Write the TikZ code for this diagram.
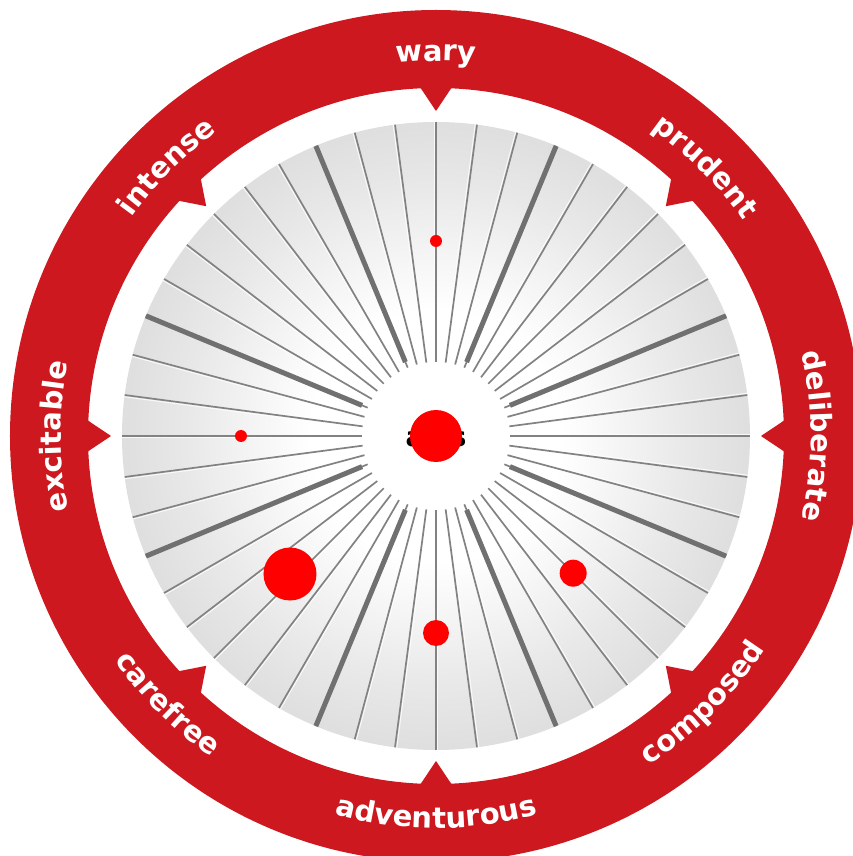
\documentclass[tikz,border=0pt]{standalone}
\usepackage{fontspec}
\setmainfont{Liberation Sans}
\newfontfamily\ringfamily{DejaVu Sans}
\usetikzlibrary{decorations.text}

\definecolor{ringred}{RGB}{204,24,30}
\definecolor{spokegray}{RGB}{130,130,130}
\definecolor{bargray}{RGB}{112,112,112}
\definecolor{dotred}{RGB}{255,0,0}

\pgfdeclareradialshading{diskshade}{\pgfpoint{0bp}{0bp}}{color(0bp)=(white); color(10bp)=(white); color(20bp)=(black!9); color(32bp)=(black!18); color(42bp)=(black!28); color(50bp)=(black!44)}

\newcommand{\ringfont}{\ringfamily\bfseries\fontsize{29}{29}\selectfont}

\tikzset{
    reddot/.style={circle, fill=dotred, inner sep=0pt},
    ringlabel/.style={decorate, decoration={text along path, text={|\ringfont|#1}, text align=center, text color=white}},
    thinspoke/.style={draw=spokegray, line width=1.7pt},
    thickspoke/.style={draw=bargray, line width=5pt},
}

\begin{document}
\begin{tikzpicture}[x=1pt, y=1pt]
        \useasboundingbox (-436,-420) rectangle (417,436);
        \clip (-436,-420) rectangle (417,436);
        \fill[white] (-436,-420) rectangle (417,436);
        \coordinate (O) at (0,0);
        \fill[ringred, even odd rule] (O) circle[radius=426] (O) circle[radius=348];
        \foreach \a in {0,45,...,315}
            \fill[ringred] (\a+2.9:352) -- (\a:325) -- (\a-2.9:352) -- cycle;
        \shade[shading=diskshade] (O) circle[radius=314];
        \foreach \a in {0,7.5,...,352.5} {
            \draw[white, opacity=0.8, line width=1pt, rotate=\a] (74,1.8) -- (314,1.8);
            \draw[thinspoke] (\a:74) -- (\a:314);
        }
        \foreach \a in {22.5,67.5,...,337.5}
            \draw[thickspoke] (\a:80) -- (\a:314);
        \fill[white] (O) circle[radius=70];
        \node[font=\ringfamily\bfseries\fontsize{27}{27}\selectfont] (hub) at (O) {axis};
        \node[reddot, minimum size=52pt] (dhub) at (O) {};
        \node[reddot, minimum size=12pt] (dwary) at (90:195) {};
        \node[reddot, minimum size=12pt] (dexcitable) at (180:195) {};
        \node[reddot, minimum size=53pt] (dcarefree) at (-146,-138) {};
        \node[reddot, minimum size=26pt] (dadventurous) at (-90:197) {};
        \node[reddot, minimum size=27pt] (dcomposed) at (-45:194) {};
        \path[ringlabel=excitable] (225:375) arc[start angle=225, end angle=135, radius=375];
        \path[ringlabel=intense] (180:375) arc[start angle=180, end angle=90, radius=375];
        \path[ringlabel=wary] (135:375) arc[start angle=135, end angle=45, radius=375];
        \path[ringlabel=prudent] (90:375) arc[start angle=90, end angle=0, radius=375];
        \path[ringlabel=deliberate] (45:375) arc[start angle=45, end angle=-45, radius=375];
        \path[ringlabel=composed] (-90:392) arc[start angle=-90, end angle=0, radius=392];
        \path[ringlabel=adventurous] (-135:392) arc[start angle=-135, end angle=-45, radius=392];
        \path[ringlabel=carefree] (-180:392) arc[start angle=-180, end angle=-90, radius=392];
    \end{tikzpicture}
\end{document}
